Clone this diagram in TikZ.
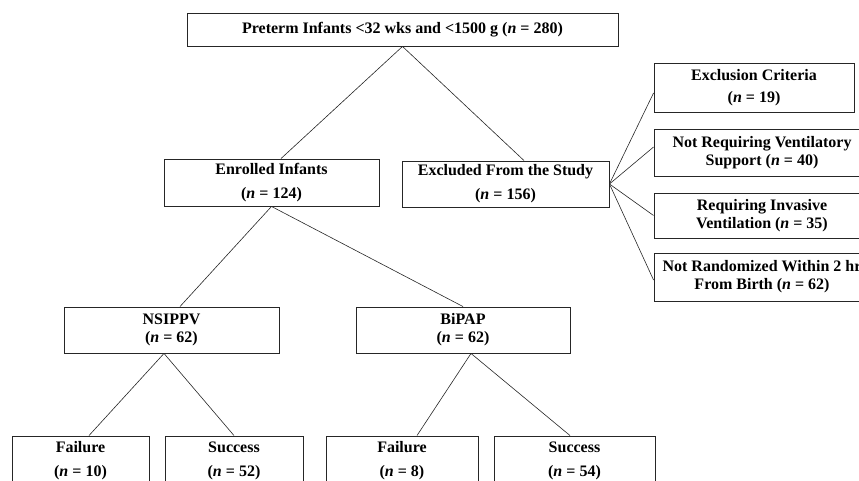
\documentclass[tikz,border=0pt]{standalone}
\usepackage{fontspec}
\setmainfont{Liberation Serif}
\usetikzlibrary{positioning}

\tikzset{
	box/.style={draw=black!85, line width=0.9pt, rectangle, inner sep=0pt, align=center,
		font=\bfseries\fontsize{16}{18}\selectfont},
	link/.style={draw=black!85, line width=0.6pt}
}

\begin{document}
\begin{tikzpicture}[x=1pt, y=1pt, node distance=150pt]
		\useasboundingbox (0,0) rectangle (859,480);
		\clip (0,0) rectangle (859,480);

		% Nodes
		\node[box, minimum width=431pt, minimum height=33pt] (preterm) at (402.5,450.5) {Preterm Infants <32 wks and <1500 g (\textit{n} = 280)};
		\node[box, minimum width=215pt, minimum height=47pt, below of=preterm, xshift=-131pt, yshift=-3pt] (enrolled) {Enrolled Infants\\[6pt](\textit{n} = 124)};
		\node[box, minimum width=207pt, minimum height=46pt, below of=preterm, xshift=103pt, yshift=-4.5pt] (excluded) {Excluded From the Study\\[6pt](\textit{n} = 156)};
		\node[box, minimum width=215pt, minimum height=46pt, below of=enrolled, xshift=-100pt, yshift=2.5pt] (nsippv) {NSIPPV\\(\textit{n} = 62)};
		\node[box, minimum width=214pt, minimum height=46pt, below of=enrolled, xshift=191.5pt, yshift=2.5pt] (bipap) {BiPAP\\(\textit{n} = 62)};
		\node[box, minimum width=137pt, minimum height=50pt, below of=nsippv, xshift=-91pt, yshift=19pt] (fail1) {Failure\\[6pt](\textit{n} = 10)};
		\node[box, minimum width=138pt, minimum height=50pt, below of=nsippv, xshift=62.5pt, yshift=19pt] (succ1) {Success\\[6pt](\textit{n} = 52)};
		\node[box, minimum width=152pt, minimum height=50pt, below of=bipap, xshift=-61pt, yshift=19pt] (fail2) {Failure\\[6pt](\textit{n} = 8)};
		\node[box, minimum width=161pt, minimum height=50pt, below of=bipap, xshift=111.5pt, yshift=19pt] (succ2) {Success\\[6pt](\textit{n} = 54)};
		\node[box, minimum width=200pt, minimum height=49pt, right of=excluded, xshift=98.5pt, yshift=96.5pt] (crit) {Exclusion Criteria\\[4pt](\textit{n} = 19)};
		\node[box, minimum width=216pt, minimum height=47pt, right of=excluded, xshift=106.5pt, yshift=31.5pt] (novent) {Not Requiring Ventilatory\\Support (\textit{n} = 40)};
		\node[box, minimum width=216pt, minimum height=45pt, right of=excluded, xshift=106.5pt, yshift=-31.5pt] (invasive) {Requiring Invasive\\Ventilation (\textit{n} = 35)};
		\node[box, minimum width=216pt, minimum height=48pt, right of=excluded, xshift=106.5pt, yshift=-93pt] (norand) {Not Randomized Within 2 hr\\From Birth (\textit{n} = 62)};

		% Lines
		\draw[link] (preterm.south) -- ([xshift=9.5pt]enrolled.north);
		\draw[link] (preterm.south) -- ([xshift=18.5pt]excluded.north);
		\draw[link] (enrolled.south) -- ([xshift=8.5pt]nsippv.north);
		\draw[link] (enrolled.south) -- (bipap.north);
		\draw[link] ([xshift=-7.5pt]nsippv.south) -- ([xshift=8.5pt]fail1.north);
		\draw[link] ([xshift=-7.5pt]nsippv.south) -- (succ1.north);
		\draw[link] ([xshift=8pt]bipap.south) -- ([xshift=15pt]fail2.north);
		\draw[link] ([xshift=8pt]bipap.south) -- ([xshift=-4.5pt]succ2.north);
		\draw[link] (excluded.east) -- ([yshift=-5.5pt]crit.west);
		\draw[link] (excluded.east) -- ([yshift=5.5pt]novent.west);
		\draw[link] (excluded.east) -- (invasive.west);
		\draw[link] (excluded.east) -- ([yshift=-3pt]norand.west);
	\end{tikzpicture}
\end{document}
